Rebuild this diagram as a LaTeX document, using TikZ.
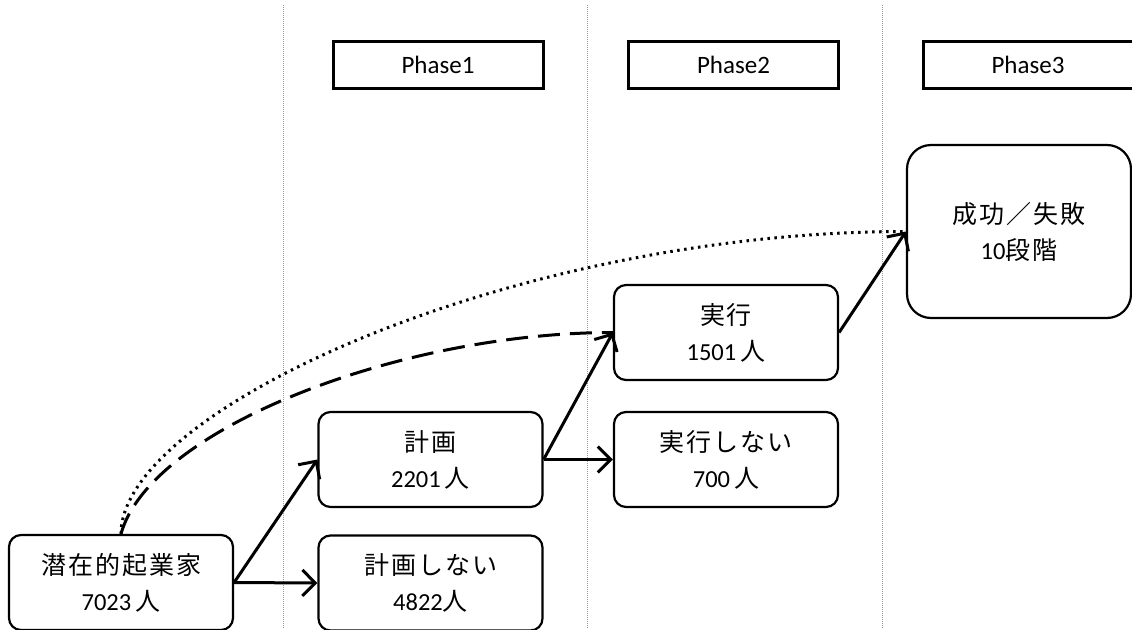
\documentclass[tikz,border=0pt]{standalone}
\usepackage{fontspec}
\setmainfont{Carlito}
\newfontfamily\jpfont[LetterSpace=8]{Noto Sans CJK JP}
\usetikzlibrary{arrows.meta}
\newcommand{\jp}[1]{{\jpfont\fontsize{25}{36}\selectfont #1}}

\begin{document}
\begin{tikzpicture}[
    x=1pt, y=-1pt,
    box/.style={rectangle, draw, line width=2.2pt, rounded corners=12pt,
        minimum width=224pt, minimum height=95pt, inner sep=0pt,
        align=center, font=\fontsize{24.5}{36}\selectfont},
    bigbox/.style={box, minimum height=173pt, rounded corners=24pt},
    phasebox/.style={rectangle, draw, line width=3pt,
        minimum width=210pt, minimum height=47pt,
        font=\fontsize{25}{30}\selectfont},
    arr/.style={-{Straight Barb[length=13pt, width=26pt, line width=3pt]}, line width=3pt},
    divider/.style={black!40, line width=0.8pt, dash pattern=on 1pt off 1pt}
]
\useasboundingbox[fill=white] (0,0) rectangle (1132,629);

% phase separators
\foreach \x in {283, 587, 882}
    \draw[divider] (\x,5) -- (\x,629);

% phase headers
\node[phasebox] (P1) at (438,64.5) {Phase1};
\node[phasebox] (P2) at (733.5,64.5) {Phase2};
\node[phasebox] (P3) at (1028,64.5) {Phase3};

% stages
\node[box] (src) at (121,582.5) {\jp{潜在的起業家}\\7023\,\jp{人}};
\node[box] (plan) at (430.5,459.5) {\jp{計画}\\2201\,\jp{人}};
\node[box] (noplan) at (430.5,583) {\jp{計画しない}\\4822\jp{人}};
\node[box] (act) at (726,332.5) {\jp{実行}\\1501\,\jp{人}};
\node[box] (noact) at (726,459.5) {\jp{実行しない}\\700\,\jp{人}};
\node[bigbox] (result) at (1019,231.5) {\jp{成功／失敗}\\10\jp{段階}};

\draw[arr] (src.east) -- (plan.west);
\draw[arr] (src.east) -- (noplan.west);
\draw[arr] (plan.east) -- (act.west);
\draw[arr] (plan.east) -- (noact.west);
\draw[arr] (act.east) -- (result.west);

% skipping stages
\draw[line width=3pt, dash pattern=on 22pt off 10pt]
    (src.north) .. controls +(29,-105) and +(-213,0) .. (act.west);
\draw[line width=3pt, dash pattern=on 2.5pt off 4.5pt]
    (src.north) .. controls +(0,-125) and +(-390,0) .. (result.west);
\end{tikzpicture}
\end{document}
